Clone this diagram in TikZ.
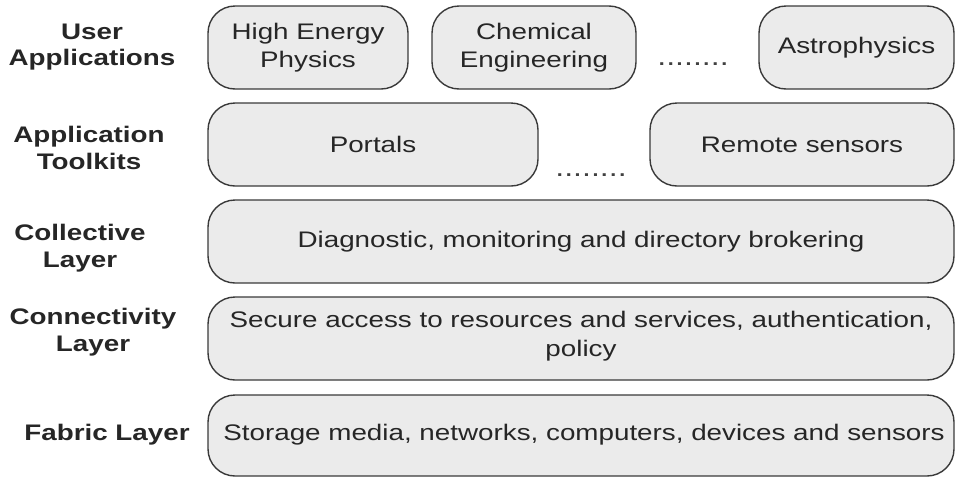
\documentclass[tikz,border=0pt]{standalone}
\usepackage{fontspec}
\setmainfont{Liberation Sans}[FakeStretch=1.235]
\begin{document}
\begin{tikzpicture}[x=1pt,y=-1pt,
  layerbox/.style={draw=boxline, fill=boxfill, line width=1.4pt, rounded corners=27pt},
  boxtext/.style={font=\fontsize{22.5}{28.5}\selectfont, text=black!85, align=center},
  sidelabel/.style={font=\fontsize{22.5}{26.5}\selectfont\bfseries, text=black!85, align=center},
  dotstext/.style={font=\fontsize{26}{26}\selectfont, text=black!75}]
\definecolor{boxfill}{HTML}{EBEBEB}
\definecolor{boxline}{HTML}{3A3A3A}
\useasboundingbox (0,0) rectangle (957,477);
% row 1
\draw[layerbox] (208,6) rectangle (408,89);
\draw[layerbox] (432,6) rectangle (636,89);
\draw[layerbox] (759,6) rectangle (954,89);
\node[boxtext] (hep) at (308,47.5) {High Energy\\Physics};
\node[boxtext] (chem) at (534,47.5) {Chemical\\Engineering};
\node[dotstext] (dots1) at (693,64) {........};
\node[boxtext] (astro) at (856.5,47.5) {Astrophysics};
% row 2
\draw[layerbox] (208,103) rectangle (538,186);
\draw[layerbox] (650,103) rectangle (954,186);
\node[boxtext] (portals) at (373,144.5) {Portals};
\node[dotstext] (dots2) at (591,175) {........};
\node[boxtext] (remote) at (802,144.5) {Remote sensors};
% row 3
\draw[layerbox] (208,200) rectangle (954,283);
\node[boxtext] (collective) at (581,241.5) {Diagnostic, monitoring and directory brokering};
% row 4
\draw[layerbox] (208,297) rectangle (954,380);
\node[boxtext] (connect) at (581,336) {Secure access to resources and services, authentication,\\policy};
% row 5
\draw[layerbox] (208,395) rectangle (954,476);
\node[boxtext] (fabric) at (584,435) {Storage media, networks, computers, devices and sensors};
% side labels
\node[sidelabel] (l1) at (92,47) {User\\Applications};
\node[sidelabel] (l2) at (89,148) {Application\\Toolkits};
\node[sidelabel] (l3) at (80,248) {Collective\\Layer};
\node[sidelabel] (l4) at (93,332) {Connectivity\\Layer};
\node[sidelabel] (l5) at (107,435) {Fabric Layer};
\end{tikzpicture}
\end{document}
